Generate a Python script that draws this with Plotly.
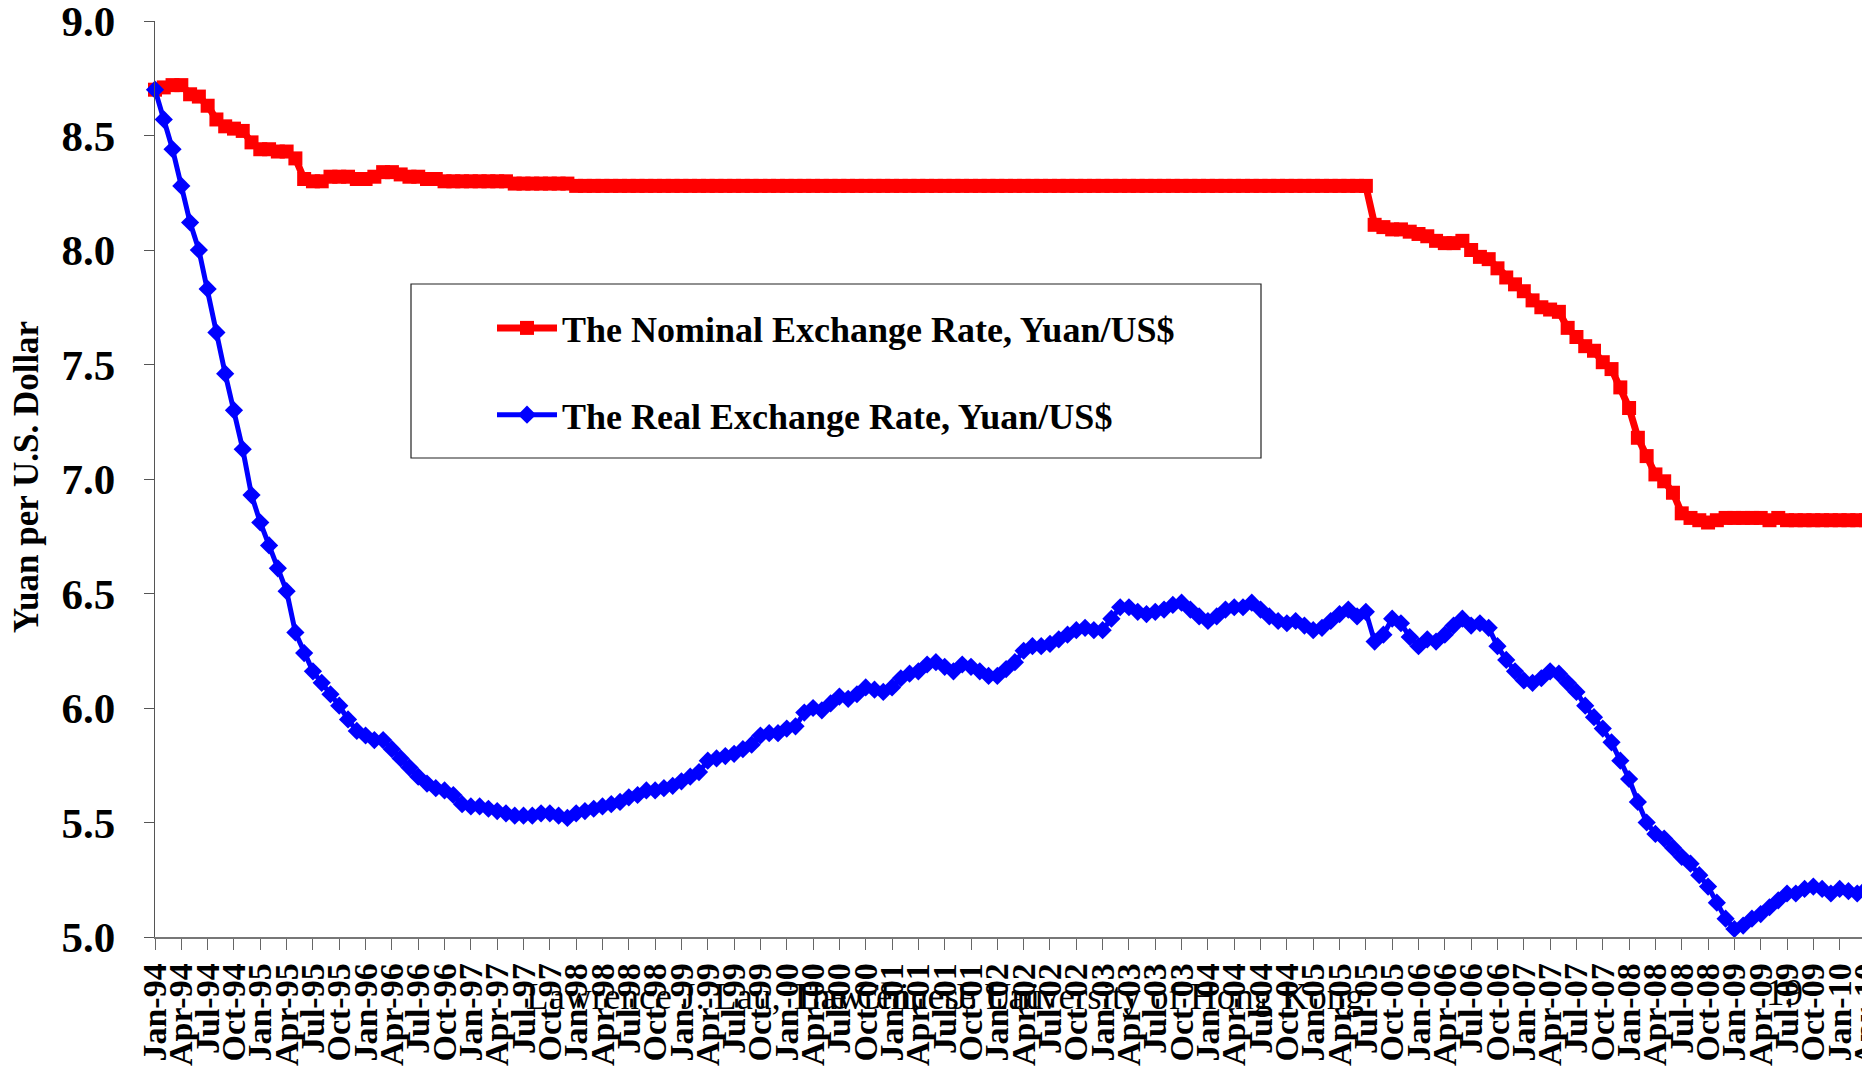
import plotly.graph_objects as go

# ---------------- data ----------------
month_names = ["Jan", "Feb", "Mar", "Apr", "May", "Jun",
               "Jul", "Aug", "Sep", "Oct", "Nov", "Dec"]
years = list(range(1994, 2011))
months = [f"{m}-{y % 100:02d}" for y in years for m in month_names][:196]  # Jan-94 .. Apr-10

nominal = [
    8.70, 8.71, 8.72, 8.72, 8.68, 8.67, 8.63, 8.57, 8.54, 8.53, 8.52, 8.47,  # 1994
    8.44, 8.44, 8.43, 8.43, 8.40, 8.31, 8.30, 8.30, 8.32, 8.32, 8.32, 8.31,  # 1995
    8.31, 8.32, 8.34, 8.34, 8.33, 8.32, 8.32, 8.31, 8.31, 8.30, 8.30, 8.30,  # 1996
    8.30, 8.30, 8.30, 8.30, 8.30, 8.29, 8.29, 8.29, 8.29, 8.29, 8.29, 8.29,  # 1997
    8.28, 8.28, 8.28, 8.28, 8.28, 8.28, 8.28, 8.28, 8.28, 8.28, 8.28, 8.28,  # 1998
    8.28, 8.28, 8.28, 8.28, 8.28, 8.28, 8.28, 8.28, 8.28, 8.28, 8.28, 8.28,  # 1999
    8.28, 8.28, 8.28, 8.28, 8.28, 8.28, 8.28, 8.28, 8.28, 8.28, 8.28, 8.28,  # 2000
    8.28, 8.28, 8.28, 8.28, 8.28, 8.28, 8.28, 8.28, 8.28, 8.28, 8.28, 8.28,  # 2001
    8.28, 8.28, 8.28, 8.28, 8.28, 8.28, 8.28, 8.28, 8.28, 8.28, 8.28, 8.28,  # 2002
    8.28, 8.28, 8.28, 8.28, 8.28, 8.28, 8.28, 8.28, 8.28, 8.28, 8.28, 8.28,  # 2003
    8.28, 8.28, 8.28, 8.28, 8.28, 8.28, 8.28, 8.28, 8.28, 8.28, 8.28, 8.28,  # 2004
    8.28, 8.28, 8.28, 8.28, 8.28, 8.28, 8.28, 8.11, 8.10, 8.09, 8.09, 8.08,  # 2005
    8.07, 8.06, 8.04, 8.03, 8.03, 8.04, 8.00, 7.97, 7.96, 7.92, 7.88, 7.85,  # 2006
    7.82, 7.78, 7.75, 7.74, 7.73, 7.66, 7.62, 7.58, 7.56, 7.51, 7.48, 7.40,  # 2007
    7.31, 7.18, 7.10, 7.02, 6.99, 6.94, 6.85, 6.83, 6.82, 6.81, 6.82, 6.83,  # 2008
    6.83, 6.83, 6.83, 6.83, 6.82, 6.83, 6.82, 6.82, 6.82, 6.82, 6.82, 6.82,  # 2009
    6.82, 6.82, 6.82, 6.82,                                                  # 2010
]

real = [
    8.70, 8.57, 8.44, 8.28, 8.12, 8.00, 7.83, 7.64, 7.46, 7.30, 7.13, 6.93,  # 1994
    6.81, 6.71, 6.61, 6.51, 6.33, 6.24, 6.16, 6.11, 6.06, 6.01, 5.95, 5.90,  # 1995
    5.88, 5.86, 5.86, 5.82, 5.78, 5.74, 5.70, 5.67, 5.65, 5.64, 5.62, 5.58,  # 1996
    5.57, 5.57, 5.56, 5.55, 5.54, 5.53, 5.53, 5.53, 5.54, 5.54, 5.53, 5.52,  # 1997
    5.54, 5.55, 5.56, 5.57, 5.58, 5.59, 5.61, 5.62, 5.64, 5.64, 5.65, 5.66,  # 1998
    5.68, 5.70, 5.72, 5.77, 5.78, 5.79, 5.80, 5.82, 5.84, 5.88, 5.89, 5.89,  # 1999
    5.91, 5.92, 5.98, 6.00, 5.99, 6.02, 6.05, 6.04, 6.06, 6.09, 6.08, 6.07,  # 2000
    6.09, 6.13, 6.15, 6.16, 6.19, 6.20, 6.18, 6.16, 6.19, 6.18, 6.16, 6.14,  # 2001
    6.14, 6.17, 6.20, 6.25, 6.27, 6.27, 6.28, 6.30, 6.32, 6.34, 6.35, 6.34,  # 2002
    6.34, 6.39, 6.44, 6.44, 6.42, 6.41, 6.42, 6.43, 6.45, 6.46, 6.43, 6.40,  # 2003
    6.38, 6.40, 6.43, 6.44, 6.44, 6.46, 6.43, 6.40, 6.38, 6.37, 6.38, 6.36,  # 2004
    6.34, 6.35, 6.38, 6.41, 6.43, 6.40, 6.42, 6.29, 6.32, 6.39, 6.37, 6.31,  # 2005
    6.27, 6.30, 6.29, 6.32, 6.36, 6.39, 6.36, 6.37, 6.35, 6.27, 6.21, 6.16,  # 2006
    6.12, 6.11, 6.13, 6.16, 6.15, 6.11, 6.07, 6.01, 5.96, 5.91, 5.85, 5.77,  # 2007
    5.69, 5.59, 5.50, 5.45, 5.43, 5.39, 5.35, 5.32, 5.27, 5.22, 5.15, 5.08,  # 2008
    5.035, 5.05, 5.08, 5.10, 5.13, 5.16, 5.19, 5.19, 5.21, 5.22, 5.21, 5.19,  # 2009
    5.21, 5.20, 5.19, 5.21,                                                  # 2010
]

tick_vals = months[::3]
tick_text = months[::3]
y_ticks = [5.0, 5.5, 6.0, 6.5, 7.0, 7.5, 8.0, 8.5, 9.0]

series_names = ["The Nominal Exchange Rate, Yuan/US$", "The Real Exchange Rate, Yuan/US$"]
y_title = "Yuan per U.S. Dollar"
footer = "Lawrence J. Lau, The Chinese University of Hong Kong"
footer2 = "Lawrence J. Lau"
page_no = "19"

# ---------------- figure ----------------
SERIF = "Liberation Serif, Times New Roman, serif"
W, H = 1870, 1069
OFF = 8                      # default page body margin around the plot div
ML, MR, MT, MB = 147, 12, 13, 140
PW, PH = W - ML - MR, H - MT - MB
XTICKLEN = 11


def px(x):
    """page pixel x -> paper coordinate"""
    return (x - OFF - ML) / PW


def py(y):
    """page pixel y -> paper coordinate"""
    return (H - MB - (y - OFF)) / PH


fig = go.Figure()
fig.add_trace(go.Scatter(
    x=months, y=nominal, name=series_names[0], mode="lines+markers",
    line=dict(color="#ff0000", width=7),
    marker=dict(symbol="square", size=14, color="#ff0000"),
    legendgroup="a", cliponaxis=False,
))
fig.add_trace(go.Scatter(
    x=months, y=real, name=series_names[1], mode="lines+markers",
    line=dict(color="#0000ff", width=5),
    marker=dict(symbol="diamond", size=14, color="#0000ff"),
    legendgroup="b", cliponaxis=False,
))

fig.update_layout(
    width=W, height=H,
    margin=dict(l=ML, r=MR, t=MT, b=MB, autoexpand=False),
    paper_bgcolor="white", plot_bgcolor="white",
    font=dict(family=SERIF, color="black"),
    showlegend=True,
    legend=dict(
        x=px(492), y=py(298), xanchor="left", yanchor="top",
        bgcolor="rgba(0,0,0,0)", borderwidth=0,
        font=dict(family=SERIF, size=36, color="black", weight="bold"),
        tracegroupgap=37, itemwidth=60,
    ),
    xaxis=dict(
        type="category", categoryorder="array", categoryarray=months,
        range=[0, len(months) - 1], automargin=False,
        tickmode="array", tickvals=tick_vals, ticktext=tick_text,
        tickangle=-90, ticks="outside", ticklen=XTICKLEN, tickcolor="#666666",
        showline=True, linecolor="#777777", linewidth=1.5,
        showgrid=False, zeroline=False, ticklabeloverflow="allow",
        tickfont=dict(family=SERIF, size=34, color="black", weight="bold"),
    ),
    yaxis=dict(
        range=[5, 9], tickmode="array", tickvals=y_ticks, automargin=False,
        ticktext=[f"{v:.1f}" for v in y_ticks],
        ticks="outside", ticklen=10, tickcolor="#555555",
        showline=True, linecolor="#555555", linewidth=1.3,
        showgrid=False, zeroline=False, ticklabelstandoff=20,
        ticklabeloverflow="allow",
        tickfont=dict(family=SERIF, size=43, color="black", weight="bold"),
    ),
    shapes=[
        dict(type="rect", xref="paper", yref="paper",
             x0=px(411), x1=px(1261), y0=py(458), y1=py(284),
             line=dict(color="#222222", width=1.2), fillcolor="rgba(0,0,0,0)",
             layer="below"),
        # closing tick mark at the right end of the category axis
        dict(type="line", xref="paper", yref="paper",
             x0=1, x1=1, y0=0, y1=-XTICKLEN / PH,
             line=dict(color="#666666", width=1)),
    ],
    annotations=[
        dict(text=y_title, xref="paper", yref="paper", x=px(26), y=py(477),
             xanchor="center", yanchor="middle", textangle=-90, showarrow=False,
             font=dict(family=SERIF, size=35, color="black", weight="bold")),
        dict(text=footer, xref="paper", yref="paper", x=px(945), y=py(996),
             xanchor="center", yanchor="middle", showarrow=False,
             font=dict(family=SERIF, size=37, color="black")),
        dict(text=footer2, xref="paper", yref="paper", x=px(796), y=py(996),
             xanchor="left", yanchor="middle", showarrow=False,
             font=dict(family=SERIF, size=37, color="black")),
        dict(text=page_no, xref="paper", yref="paper", x=px(1784), y=py(992),
             xanchor="center", yanchor="middle", showarrow=False,
             font=dict(family=SERIF, size=37, color="black")),
    ],
)

fig.write_html("out.html")
